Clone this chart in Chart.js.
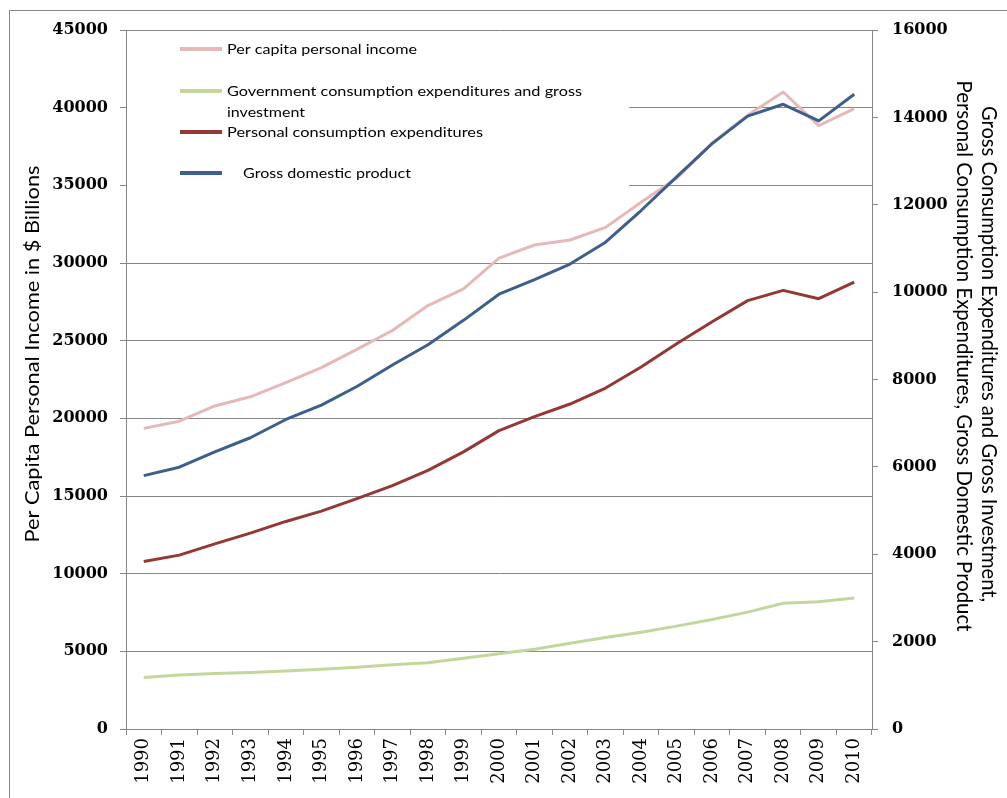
<!DOCTYPE html>
<html lang="en">
<head>
    <meta charset="UTF-8"/>
    <title>Income, Consumption and GDP 1990-2010</title>
    <script src="https://cdn.jsdelivr.net/npm/chart.js"></script>
    <style>
        html, body {
            margin: 0;
            padding: 0;
            background: #fff;
            overflow: hidden;
        }
        canvas#mainChart {
            display: block;
        }
    </style>
</head>
<body>
<canvas id="mainChart" width="1007" height="798"></canvas>

<script>
    // data
    const years = ['1990', '1991', '1992', '1993', '1994', '1995', '1996', '1997', '1998', '1999', '2000',
        '2001', '2002', '2003', '2004', '2005', '2006', '2007', '2008', '2009', '2010'];

    // left axis (per capita, $)
    const perCapitaIncome = [19354, 19818, 20799, 21385, 22297, 23262, 24442, 25654, 27258, 28333, 30319,
        31157, 31481, 32295, 33909, 35452, 37725, 39506, 41009, 38846, 39937];

    // right axis ($ billions)
    const govConsumption = [1180, 1234, 1271, 1291, 1325, 1369, 1416, 1469, 1518, 1621, 1722,
        1826, 1961, 2093, 2217, 2355, 2508, 2675, 2878, 2915, 3000];
    const personalConsumption = [3835, 3980, 4237, 4484, 4751, 4987, 5274, 5571, 5919, 6343, 6830,
        7149, 7439, 7804, 8285, 8819, 9323, 9806, 10040, 9850, 10230];
    const gdp = [5800, 5992, 6342, 6667, 7085, 7415, 7839, 8332, 8794, 9354, 9952,
        10286, 10642, 11142, 11868, 12638, 13399, 14030, 14300, 13920, 14530];

    const leftTitle = 'Per Capita Personal Income in $ Billions';
    const rightTitle = ['Gross Consumption Expenditures and Gross Investment,',
        'Personal Consumption Expenditures, Gross Domestic Product'];

    const seriesNames = ['Per capita personal income',
        'Government consumption expenditures and gross investment',
        'Personal consumption expenditures',
        'Gross domestic product'];

    const GRID = '#868686';
    const COLORS = ['#e6b9b8', '#c3d69b', '#953735', '#3d5f8d'];

    // draws text squeezed/stretched to a given width (the original font is narrower)
    function fitText(ctx, text, x, y, w, font, rot) {
        ctx.save();
        ctx.font = font;
        const m = ctx.measureText(text).width;
        ctx.translate(x, y);
        ctx.rotate(rot || 0);
        ctx.scale(w / m, 1);
        ctx.fillText(text, 0, 0);
        ctx.restore();
    }

    const backgroundPlugin = {
        id: 'bg',
        beforeDraw(chart) {
            const ctx = chart.ctx;
            ctx.save();
            ctx.fillStyle = '#fff';
            ctx.fillRect(0, 0, chart.width, chart.height);
            ctx.strokeStyle = GRID;
            ctx.lineWidth = 1;
            ctx.strokeRect(9.5, 10.5, 1200, 1000);
            ctx.restore();
        }
    };

    // legend box sits inside the plot, covering the grid lines
    const legendPlugin = {
        id: 'boxLegend',
        beforeDatasetsDraw(chart) {
            const ctx = chart.ctx;
            const ds = chart.data.datasets;
            ctx.save();
            ctx.fillStyle = '#fff';
            ctx.fillRect(127, 31, 502, 170);

            const rows = [
                { lines: [seriesNames[0]], y: 49, tx: 227, widths: [190] },
                { lines: ['Government consumption expenditures and gross', 'investment'], y: 91, tx: 227, widths: [355, 78] },
                { lines: [seriesNames[2]], y: 132, tx: 227, widths: [256] },
                { lines: [seriesNames[3]], y: 173, tx: 243, widths: [168] }
            ];
            rows.forEach((r, i) => {
                ctx.strokeStyle = ds[i].borderColor;
                ctx.lineWidth = 4;
                ctx.beginPath();
                ctx.moveTo(180, r.y);
                ctx.lineTo(222, r.y);
                ctx.stroke();
                ctx.fillStyle = '#000';
                ctx.textAlign = 'left';
                ctx.textBaseline = 'middle';
                r.lines.forEach((t, j) => {
                    fitText(ctx, t, r.tx, r.y + j * 21, r.widths[j], '14px Lato');
                });
            });
            ctx.restore();
        }
    };

    const titlesPlugin = {
        id: 'axisTitles',
        afterDraw(chart) {
            const ctx = chart.ctx;
            ctx.save();
            ctx.fillStyle = '#000';
            ctx.textAlign = 'center';
            ctx.textBaseline = 'middle';
            fitText(ctx, leftTitle, 33, 354, 377, '20px Lato', -Math.PI / 2);
            fitText(ctx, rightTitle[0], 989, 354, 496, '21px Lato', Math.PI / 2);
            fitText(ctx, rightTitle[1], 964, 356, 551, '21px Lato', Math.PI / 2);
            ctx.restore();
        }
    };

    const ctxMain = document.getElementById('mainChart').getContext('2d');

    new Chart(ctxMain, {
        type: 'line',
        data: {
            labels: years,
            datasets: [
                { label: seriesNames[0], data: perCapitaIncome, yAxisID: 'y', borderColor: COLORS[0], order: 3 },
                { label: seriesNames[1], data: govConsumption, yAxisID: 'y1', borderColor: COLORS[1], order: 2 },
                { label: seriesNames[2], data: personalConsumption, yAxisID: 'y1', borderColor: COLORS[2], order: 1 },
                { label: seriesNames[3], data: gdp, yAxisID: 'y1', borderColor: COLORS[3], order: 0 }
            ].map(d => Object.assign(d, {
                borderWidth: 3,
                pointRadius: 0,
                tension: 0,
                fill: false,
                borderJoinStyle: 'round'
            }))
        },
        options: {
            responsive: false,
            animation: false,
            layout: { padding: { top: 30, left: 0, right: 0, bottom: 0 } },
            plugins: {
                legend: { display: false },
                tooltip: { enabled: false }
            },
            scales: {
                x: {
                    offset: true,
                    grid: { offset: true, drawOnChartArea: false, drawTicks: true, tickLength: 6, color: GRID },
                    border: { color: GRID },
                    ticks: {
                        autoSkip: false,
                        minRotation: 90,
                        maxRotation: 90,
                        padding: 3,
                        color: '#000',
                        font: { family: 'DejaVu Serif', size: 18 }
                    },
                    afterFit: s => { s.height = 69; }
                },
                y: {
                    position: 'left',
                    min: 0,
                    max: 45000,
                    grid: { color: GRID, tickLength: 6 },
                    border: { color: GRID },
                    ticks: {
                        stepSize: 5000,
                        padding: 12,
                        color: '#000',
                        callback: v => String(v),
                        font: { family: 'DejaVu Serif', size: 16, weight: 'bold' }
                    },
                    afterFit: s => { s.width = 126; }
                },
                y1: {
                    position: 'right',
                    min: 0,
                    max: 16000,
                    grid: { drawOnChartArea: false, color: GRID, tickLength: 6 },
                    border: { color: GRID },
                    ticks: {
                        stepSize: 2000,
                        padding: 14,
                        color: '#000',
                        callback: v => String(v),
                        font: { family: 'DejaVu Serif', size: 16, weight: 'bold' }
                    },
                    afterFit: s => { s.width = 135; }
                }
            }
        },
        plugins: [backgroundPlugin, legendPlugin, titlesPlugin]
    });
</script>
</body>
</html>
